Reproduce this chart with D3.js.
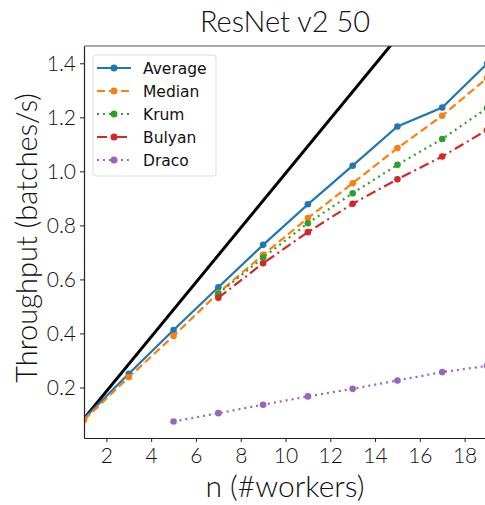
<!DOCTYPE html>
<html>
<head>
<meta charset="utf-8">
<script src="https://cdn.jsdelivr.net/npm/d3@7"></script>
<style>
  body { margin: 0; background: #fff; }
  svg { display: block; }
</style>
</head>
<body>
<div id="chart"></div>
<script>
// ResNet v2 50 throughput vs number of workers

var workers = [1, 3, 5, 7, 9, 11, 13, 15, 17, 19];
var average = [0.085, 0.251, 0.413, 0.571, 0.728, 0.878, 1.021, 1.166, 1.236, 1.398];
var median  = [0.080, 0.238, 0.391, 0.550, 0.691, 0.827, 0.956, 1.086, 1.206, 1.345];
var krumN   = [7, 9, 11, 13, 15, 17, 19];
var krum    = [0.547, 0.681, 0.808, 0.919, 1.024, 1.120, 1.234];
var bulyan  = [0.532, 0.660, 0.775, 0.880, 0.971, 1.055, 1.153];
var dracoN  = [5, 7, 9, 11, 13, 15, 17, 19];
var draco   = [0.074, 0.105, 0.136, 0.167, 0.195, 0.226, 0.257, 0.280];
var idealN  = [1, 19];
var ideal   = [0.085, 1.9];

var xTicks = [2, 4, 6, 8, 10, 12, 14, 16, 18];
var yTicks = [0.2, 0.4, 0.6, 0.8, 1.0, 1.2, 1.4];

var series = [
    { name: 'Average', n: workers, v: average, color: '#1f77b4', dash: null },
    { name: 'Median',  n: workers, v: median,  color: '#ff7f0e', dash: '8,4' },
    { name: 'Krum',    n: krumN,   v: krum,    color: '#2ca02c', dash: '2,4' },
    { name: 'Bulyan',  n: krumN,   v: bulyan,  color: '#d62728', dash: '10,4,2,4' },
    { name: 'Draco',   n: dracoN,  v: draco,   color: '#9467bd', dash: '2,4' }
];

var width = 485, height = 505;
var margin = { left: 84, top: 46, right: 487, bottom: 438 };
var textFont = 'Lato, "Open Sans", sans-serif';

var svg = d3.select('#chart').append('svg')
    .attr('width', width)
    .attr('height', height);

var x = d3.scaleLinear().domain([1, 19]).range([margin.left, margin.right]);
var y = d3.scaleLinear().domain([0.013, 1.464]).range([margin.bottom, margin.top]);

svg.append('defs').append('clipPath').attr('id', 'plotClip')
    .append('rect')
    .attr('x', margin.left)
    .attr('y', margin.top)
    .attr('width', margin.right - margin.left)
    .attr('height', margin.bottom - margin.top);

var plot = svg.append('g').attr('clip-path', 'url(#plotClip)');

var line = d3.line()
    .x(function(d) { return x(d[0]); })
    .y(function(d) { return y(d[1]); });

// ideal linear scaling line
var idealPts = idealN.map(function(n, i) { return [n, ideal[i]]; });
plot.append('path')
    .datum(idealPts)
    .attr('fill', 'none')
    .attr('stroke', '#000')
    .attr('stroke-width', 3)
    .attr('d', line);

series.forEach(function(s) {
    var pts = s.n.map(function(n, i) { return [n, s.v[i]]; });
    plot.append('path')
        .datum(pts)
        .attr('fill', 'none')
        .attr('stroke', s.color)
        .attr('stroke-width', 2.2)
        .attr('stroke-dasharray', s.dash)
        .attr('d', line);
    plot.selectAll(null)
        .data(pts)
        .enter()
        .append('circle')
        .attr('cx', function(d) { return x(d[0]); })
        .attr('cy', function(d) { return y(d[1]); })
        .attr('r', 3.3)
        .attr('fill', s.color);
});

// axes
var xAxis = svg.append('g')
    .attr('transform', 'translate(0,' + margin.bottom + ')')
    .call(d3.axisBottom(x).tickValues(xTicks).tickSize(4).tickSizeOuter(0).tickPadding(6).tickFormat(d3.format('d')));
var yAxis = svg.append('g')
    .attr('transform', 'translate(' + margin.left + ',0)')
    .call(d3.axisLeft(y).tickValues(yTicks).tickSize(4).tickSizeOuter(0).tickPadding(4).tickFormat(d3.format('.1f')));

[xAxis, yAxis].forEach(function(ax) {
    ax.select('.domain').attr('stroke', '#222').attr('stroke-width', 1.2);
    ax.selectAll('.tick line').attr('stroke', '#222');
    ax.selectAll('.tick text')
        .style('font-family', textFont)
        .style('font-weight', 300)
        .style('font-size', '21px')
        .attr('fill', '#111');
});

// top spine
svg.append('line')
    .attr('x1', margin.left).attr('x2', margin.right)
    .attr('y1', margin.top).attr('y2', margin.top)
    .attr('stroke', '#555')
    .attr('stroke-width', 1.2);

// title & labels
svg.append('text')
    .attr('x', 285)
    .attr('y', 32)
    .attr('text-anchor', 'middle')
    .style('font-family', textFont)
    .style('font-weight', 300)
    .style('font-size', '29px')
    .attr('fill', '#111')
    .text('ResNet v2 50');

svg.append('text')
    .attr('x', 285)
    .attr('y', 497)
    .attr('text-anchor', 'middle')
    .style('font-family', textFont)
    .style('font-weight', 300)
    .style('font-size', '30px')
    .attr('fill', '#111')
    .text('n (#workers)');

svg.append('text')
    .attr('transform', 'translate(37,238) rotate(-90)')
    .attr('text-anchor', 'middle')
    .style('font-family', textFont)
    .style('font-weight', 300)
    .style('font-size', '29px')
    .attr('fill', '#111')
    .text('Throughput (batches/s)');

// legend
var legend = svg.append('g');
legend.append('rect')
    .attr('x', 93).attr('y', 55)
    .attr('width', 123).attr('height', 121)
    .attr('rx', 3)
    .attr('fill', '#fff')
    .attr('fill-opacity', 0.85)
    .attr('stroke', '#ddd');

series.forEach(function(s, i) {
    var ly = 68 + i * 23;
    legend.append('line')
        .attr('x1', 97).attr('x2', 131)
        .attr('y1', ly).attr('y2', ly)
        .attr('stroke', s.color)
        .attr('stroke-width', 2.2)
        .attr('stroke-dasharray', s.dash);
    legend.append('circle')
        .attr('cx', 114).attr('cy', ly)
        .attr('r', 3.5)
        .attr('fill', s.color);
    legend.append('text')
        .attr('x', 143).attr('y', ly + 5.5)
        .style('font-family', '"DejaVu Sans", sans-serif')
        .style('font-size', '15.5px')
        .attr('fill', '#111')
        .text(s.name);
});
</script>
</body>
</html>
